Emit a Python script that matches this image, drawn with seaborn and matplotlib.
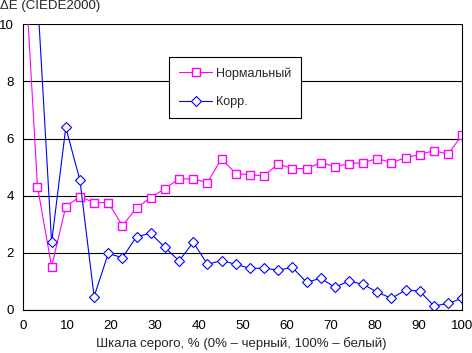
import matplotlib
matplotlib.use("Agg")
import matplotlib.pyplot as plt
import seaborn as sns
import pandas as pd
import numpy as np

# ---- data ----
gray_pct = [0, 3.23, 6.45, 9.68, 12.9, 16.13, 19.35, 22.58, 25.81, 29.03, 32.26,
            35.48, 38.71, 41.94, 45.16, 48.39, 51.61, 54.84, 58.06, 61.29, 64.52,
            67.74, 70.97, 74.19, 77.42, 80.65, 83.87, 87.1, 90.32, 93.55, 96.77, 100]
normal = [13.0, 4.32, 1.52, 3.62, 3.97, 3.76, 3.76, 2.95, 3.58, 3.93, 4.25,
          4.59, 4.59, 4.46, 5.30, 4.77, 4.74, 4.69, 5.12, 4.95, 4.95,
          5.16, 5.02, 5.12, 5.16, 5.30, 5.16, 5.33, 5.44, 5.58, 5.45, 6.14]
korr = [14.0, 11.0, 2.37, 6.39, 4.54, 0.47, 1.98, 1.83, 2.57, 2.68, 2.19,
        1.72, 2.37, 1.60, 1.73, 1.60, 1.46, 1.46, 1.40, 1.49, 0.97,
        1.11, 0.80, 1.01, 0.90, 0.62, 0.41, 0.70, 0.66, 0.14, 0.23, 0.41]
series_names = ["Нормальный", "Корр."]
x_ticks = [0, 10, 20, 30, 40, 50, 60, 70, 80, 90, 100]
y_ticks = [0, 2, 4, 6, 8, 10]

sns.set_style("white")
plt.rcParams['font.family'] = ['Liberation Sans', 'DejaVu Sans']
FS = 9.5
LFS = 9.0

W, H = 472, 353
fig = plt.figure(figsize=(W / 100, H / 100), dpi=100)
ax = fig.add_axes([23.3 / W, (H - 310) / H, (462.3 - 23.3) / W, (310 - 24.3) / H])

df_n = pd.DataFrame({"x": gray_pct, "y": normal})
df_k = pd.DataFrame({"x": gray_pct, "y": korr})

sns.lineplot(data=df_n, x="x", y="y", ax=ax, color="#FF00FF", marker="s",
             markersize=5.2, mfc="white", mec="#FF00FF", mew=1.0, lw=0.8,
             label=series_names[0], clip_on=True)
sns.lineplot(data=df_k, x="x", y="y", ax=ax, color="#0000FF", marker="D",
             markersize=4.6, mfc="white", mec="#0000FF", mew=0.8, lw=0.8,
             label=series_names[1], clip_on=True)

ax.set_xlim(0, 100)
ax.set_ylim(0, 10)
ax.set_xticks(x_ticks)
ax.set_yticks(y_ticks)
ax.set_xlabel("")
ax.set_ylabel("")
ax.yaxis.grid(True, color="black", lw=0.8)
ax.set_axisbelow(True)
for s in ax.spines.values():
    s.set_color("black")
    s.set_linewidth(0.8)
ax.spines["top"].set_visible(False)
ax.tick_params(axis="both", direction="out", length=4, width=0.8, colors="black",
               labelsize=FS, pad=2)
ax.tick_params(axis="x", length=5, pad=2.5)
ax.tick_params(axis="y", pad=3)

leg = ax.legend(loc="upper left", bbox_to_anchor=(169.3 / W, 1 - 57.3 / H),
                bbox_transform=fig.transFigure, borderaxespad=0,
                frameon=True, fancybox=False, fontsize=LFS, handlelength=2.6,
                handletextpad=0.33, labelspacing=1.3, borderpad=0.8)
leg.get_frame().set_edgecolor("black")
leg.get_frame().set_linewidth(0.8)
leg.get_frame().set_alpha(1)

fig.text(0, 1 - 5.5 / H, "ΔE (CIEDE2000)", fontsize=FS, ha="left", va="center")
fig.text(241.5 / W, 1 - 343.3 / H, "Шкала серого, % (0% – черный, 100% – белый)",
         fontsize=FS, ha="center", va="center")

fig.savefig("out.png", dpi=100)
